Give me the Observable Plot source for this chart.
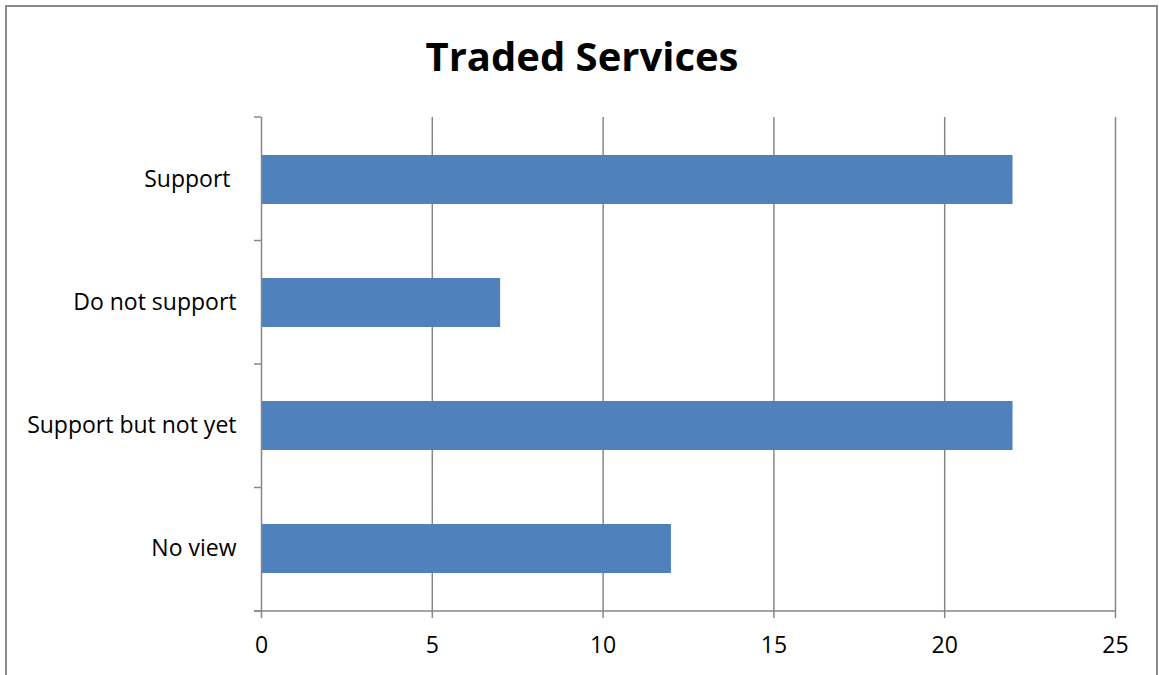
<!DOCTYPE html>
<html>
<head>
<meta charset="utf-8">
<script src="https://cdn.jsdelivr.net/npm/d3@7"></script>
<script src="https://cdn.jsdelivr.net/npm/@observablehq/plot@0.6"></script>
<style>
  html, body { margin: 0; padding: 0; background: #fff; overflow: hidden; }
  #wrap { position: relative; width: 1159px; height: 675px; overflow: hidden; background: #fff; }
  #border { position: absolute; left: 5px; top: 5px; width: 1153px; height: 720px; border: 2px solid #8a8a8a; box-sizing: border-box; }
  #title { position: absolute; left: 0; top: 26px; width: 1164px; text-align: center;
           font-family: "Open Sans", sans-serif; font-weight: 700; font-size: 40px; line-height: 60px; color: #000; }
  #chart { position: absolute; left: 0; top: 0; }
</style>
</head>
<body>
<div id="wrap">
  <div id="border"></div>
  <div id="chart"></div>
  <div id="title">Traded Services</div>
</div>
<script>
const title = "Traded Services";
const categories = ["Support ", "Do not support", "Support but not yet", "No view"];
const values = [22, 7, 22, 12];
const xTicks = [0, 5, 10, 15, 20, 25];

const data = categories.map((c, i) => ({category: c, value: values[i]}));
const gray = "#878787";

const bandTicks = Plot.ruleX([0], {
  render: (I, scales, vals, dims) => {
    const g = d3.create("svg:g");
    const top = dims.marginTop, bottom = dims.height - dims.marginBottom;
    const left = dims.marginLeft, right = dims.width - dims.marginRight;
    const n = categories.length;
    g.append("line").attr("x1", left - 7).attr("x2", right).attr("y1", bottom).attr("y2", bottom)
      .attr("stroke", gray).attr("stroke-width", 1.5);
    for (let k = 0; k <= n; k++) {
      const y = top + k * (bottom - top) / n;
      g.append("line").attr("x1", left - 7).attr("x2", left).attr("y1", y).attr("y2", y)
        .attr("stroke", gray).attr("stroke-width", 1.5);
    }
    return g.node();
  }
});

const chart = Plot.plot({
  width: 1159,
  height: 675,
  marginLeft: 261,
  marginRight: 44,
  marginTop: 117,
  marginBottom: 64,
  style: {fontFamily: "Open Sans, sans-serif", fontSize: "23px", color: "#000", background: "transparent"},
  x: {domain: [0, 25]},
  y: {domain: categories, paddingInner: 0.6, paddingOuter: 0.3, align: 0.5},
  marks: [
    Plot.ruleX(xTicks.slice(1), {stroke: gray, strokeWidth: 1.5, strokeOpacity: 1}),
    Plot.barX(data, {x: "value", y: "category", fill: "#4F81BD"}),
    Plot.ruleX([0], {stroke: gray, strokeWidth: 1.5}),
    bandTicks,
    Plot.axisX({ticks: xTicks, tickSize: 7, tickPadding: 18, stroke: gray, strokeWidth: 1.5, strokeOpacity: 1, label: null, fontSize: 23}),
    Plot.axisY({tickSize: 0, tickPadding: 25, label: null, fontSize: 23})
  ]
});
document.getElementById("chart").appendChild(chart);
</script>
</body>
</html>
